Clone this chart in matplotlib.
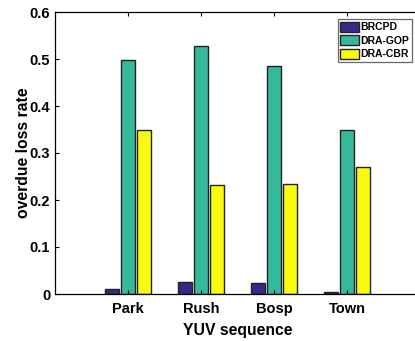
import numpy as np
import matplotlib.pyplot as plt

plt.rcParams['font.family'] = ['Liberation Sans', 'DejaVu Sans']
plt.rcParams['font.weight'] = 'bold'

sequences = ["Park", "Rush", "Bosp", "Town"]
series_names = ["BRCPD", "DRA-GOP", "DRA-CBR"]
brcpd = [0.010, 0.025, 0.024, 0.004]
dra_gop = [0.497, 0.528, 0.485, 0.348]
dra_cbr = [0.350, 0.231, 0.233, 0.271]

colors = ["#352a87", "#36b89a", "#f9fb0e"]

fig = plt.figure(figsize=(4.15, 3.41), dpi=100)
ax = fig.add_axes([55 / 415, 47 / 341, 365 / 415, 282 / 341])

x = np.arange(1, len(sequences) + 1)
offsets = [-0.22, 0.0, 0.22]
width = 0.18
for vals, name, col, off in zip([brcpd, dra_gop, dra_cbr], series_names, colors, offsets):
    ax.bar(x + off, vals, width, color=col, edgecolor="#222222", linewidth=1.0, label=name)

ax.set_xlim(0, 5)
ax.set_ylim(0, 0.6)
ax.set_xticks(x)
ax.set_xticklabels(sequences)
ax.set_yticks(np.arange(0, 0.61, 0.1))
ax.set_yticklabels(["0", "0.1", "0.2", "0.3", "0.4", "0.5", "0.6"])
ax.tick_params(direction="in", length=3, labelsize=10.5, top=True, width=0.8)
ax.tick_params(axis="x", pad=6)
for s in ["left", "bottom", "top"]:
    ax.spines[s].set_linewidth(0.9)
ax.spines["right"].set_visible(False)

ax.set_xlabel("YUV sequence", fontsize=11.3, fontweight="bold", labelpad=5)
ax.set_ylabel("overdue loss rate", fontsize=11.3, fontweight="bold", labelpad=-1)

leg = fig.legend(loc="upper right", bbox_to_anchor=(412 / 415, 1 - 19 / 341), fontsize=7.5,
                 frameon=True, fancybox=False, edgecolor="#444444",
                 handlelength=1.8, handleheight=1.1, handletextpad=0.15,
                 borderpad=0.25, labelspacing=0.3, borderaxespad=0)
leg.get_frame().set_linewidth(0.9)

fig.savefig("out.png", dpi=100)
